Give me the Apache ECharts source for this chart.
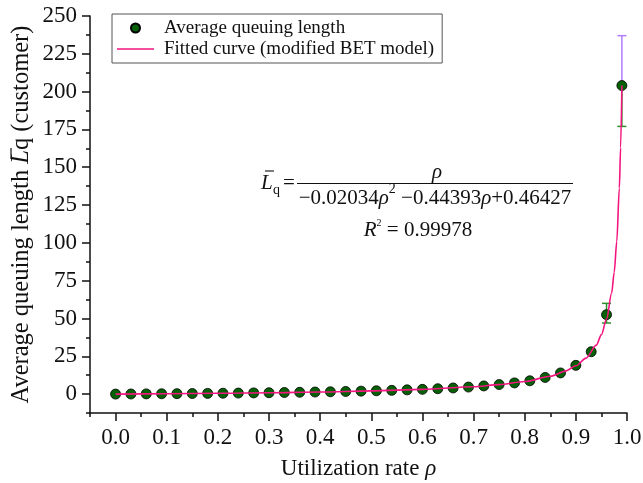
<!DOCTYPE html>
<html>
<head>
<meta charset="utf-8">
<script src="https://cdn.jsdelivr.net/npm/echarts@6/dist/echarts.min.js"></script>
<style>html,body{margin:0;background:#fff}#chart{width:643px;height:483px}</style>
</head>
<body>
<div id="chart"></div>
<script>
// measured points (utilization rate vs. mean queue length)
const rho = [0, 0.03, 0.06, 0.09, 0.12, 0.15, 0.18, 0.21, 0.24, 0.27, 0.30, 0.33, 0.36, 0.39, 0.42, 0.45, 0.48,
  0.51, 0.54, 0.57, 0.60, 0.63, 0.66, 0.69, 0.72, 0.75, 0.78, 0.81, 0.84, 0.87, 0.90, 0.93, 0.96, 0.99];
const lqMean = [0, 0.07, 0.14, 0.21, 0.29, 0.37, 0.47, 0.57, 0.67, 0.79, 0.91, 1.05, 1.2, 1.36, 1.53, 1.74, 1.96,
  2.19, 2.47, 2.8, 3.15, 3.55, 4.05, 4.65, 5.4, 6.3, 7.4, 8.8, 11, 14, 19, 28, 52.5, 204];

// visible error bars
const errRho = [0.96, 0.99];
const errLow = [47, 177];
const errHigh = [60, 237];

// fitted curve
const fitRho = [0, 0.1, 0.2, 0.3, 0.4, 0.5, 0.6, 0.7, 0.75, 0.8, 0.85, 0.88, 0.9, 0.92, 0.94, 0.95, 0.96,
  0.97, 0.975, 0.98, 0.985, 0.9875, 0.99];
const fitLq = [0, 0.24, 0.53, 0.91, 1.41, 2.11, 3.15, 4.88, 6.26, 8.32, 11.8, 15.2, 18.7, 23.8, 32.4, 39.3, 49.6,
  66.8, 80.6, 101, 136, 163, 204];

const xTicks = [0, 0.1, 0.2, 0.3, 0.4, 0.5, 0.6, 0.7, 0.8, 0.9, 1.0];
const yTicks = [0, 25, 50, 75, 100, 125, 150, 175, 200, 225, 250];

const serif = "'Liberation Serif', 'Times New Roman', serif";
const ink = "#111";
const green = "#066006", barGreen = "#2b8f2b", barPurple = "#b27cff", pink = "#f5157f";

const chart = echarts.init(document.getElementById("chart"));

const minorAxis = (min, max, interval) => ({
  type: "value", min, max, interval,
  axisLine: { show: true, onZero: false, lineStyle: { color: ink, width: 1.5 } },
  axisTick: { show: true, inside: false, length: 4, lineStyle: { color: ink, width: 1.5 } },
  axisLabel: { show: false },
  splitLine: { show: false },
});
const majorAxis = (min, max, ticks, fmt) => ({
  type: "value", min, max,
  axisLine: { show: false, onZero: false },
  axisTick: { show: true, inside: false, length: 8, customValues: ticks, lineStyle: { color: ink, width: 1.5 } },
  axisLabel: { show: true, customValues: ticks, formatter: fmt, fontFamily: serif, fontSize: 23, color: ink, margin: 13 },
  splitLine: { show: false },
});

chart.setOption({
  animation: false,
  textStyle: { fontFamily: serif },
  grid: { left: 90, right: 16, top: 16, bottom: 70, outerBoundsMode: "none", containLabel: false },
  legend: {
    left: 112, top: 14, orient: "vertical",
    padding: [4, 8, 4, 5], itemGap: 1,
    itemWidth: 37, itemHeight: 9,
    borderColor: "#555", borderWidth: 1,
    textStyle: { fontFamily: serif, fontSize: 19, color: ink, lineHeight: 20, padding: [0, 0, 0, 5] },
    data: [
      { name: "Average queuing length", icon: "circle" },
      { name: "Fitted curve (modified BET model)", icon: "path://M0,0H74V3H0Z" },
    ],
  },
  xAxis: [
    Object.assign(minorAxis(-0.05, 1.0, 0.05), { position: "bottom",
      name: "Utilization rate {i|ρ}", nameLocation: "middle", nameGap: 44,
      nameTextStyle: { fontFamily: serif, fontSize: 23, color: ink, rich: { i: { fontFamily: serif, fontStyle: "italic", fontSize: 23, color: ink } } } }),
    Object.assign(majorAxis(-0.05, 1.0, xTicks, v => v.toFixed(1)), { position: "bottom" }),
  ],
  yAxis: [
    Object.assign(minorAxis(-12.5, 250, 12.5), { position: "left",
      name: "Average queuing length {i|L}q (customer)", nameLocation: "middle", nameGap: 56, nameRotate: 90,
      nameTextStyle: { fontFamily: serif, fontSize: 24.5, color: ink, rich: { i: { fontFamily: serif, fontStyle: "italic", fontSize: 24.5, color: ink } } } }),
    Object.assign(majorAxis(-12.5, 250, yTicks, v => String(v)), { position: "left" }),
  ],
  series: [
    {
      type: "custom", name: "error", xAxisIndex: 0, yAxisIndex: 0, z: 1, silent: true,
      data: errRho.map((r, i) => [r, errLow[i], errHigh[i], lqMean[rho.indexOf(r)]]),
      renderItem(params, api) {
        const x = api.value(0);
        const lo = api.coord([x, api.value(1)]);
        const hi = api.coord([x, api.value(2)]);
        const mid = api.coord([x, api.value(3)]);
        const up = params.dataIndex === errRho.length - 1 ? barPurple : barGreen;
        const cap = 4.5;
        const seg = (x1, y1, x2, y2, c) => ({ type: "line", shape: { x1, y1, x2, y2 }, style: { stroke: c, lineWidth: 1.5 } });
        return { type: "group", children: [
          seg(mid[0], mid[1], lo[0], lo[1], barGreen),
          seg(lo[0] - cap, lo[1], lo[0] + cap, lo[1], barGreen),
          seg(mid[0], mid[1], hi[0], hi[1], up),
          seg(hi[0] - cap, hi[1], hi[0] + cap, hi[1], up),
        ] };
      },
    },
    {
      type: "scatter", name: "Average queuing length", xAxisIndex: 0, yAxisIndex: 0, z: 2,
      symbol: "circle", symbolSize: 10,
      itemStyle: { color: green, borderColor: "#000", borderWidth: 0.8, opacity: 1 },
      data: rho.map((r, i) => [r, lqMean[i]]),
    },
    {
      type: "line", name: "Fitted curve (modified BET model)", xAxisIndex: 0, yAxisIndex: 0, z: 3,
      symbol: "none", smooth: 0.3, smoothMonotone: "x",
      lineStyle: { color: pink, width: 1.6 }, itemStyle: { color: pink },
      data: fitRho.map((r, i) => [r, fitLq[i]]),
    },
  ],
  graphic: [
    // overline on the axis-title L
    { type: "line", shape: { x1: 11, y1: 159, x2: 11, y2: 148 }, style: { stroke: ink, lineWidth: 1.2 } },
    // fitted equation
    { type: "text", x: 261, y: 183, style: { text: "L", font: `italic 21px ${serif}`, fill: ink, verticalAlign: "middle" } },
    { type: "line", shape: { x1: 265, y1: 171, x2: 274, y2: 171 }, style: { stroke: ink, lineWidth: 1.1 } },
    { type: "text", x: 273, y: 190, style: { text: "q", font: `14px ${serif}`, fill: ink, verticalAlign: "middle" } },
    { type: "text", x: 283, y: 183, style: { text: "=", font: `21px ${serif}`, fill: ink, verticalAlign: "middle" } },
    { type: "line", shape: { x1: 297, y1: 183.5, x2: 573, y2: 183.5 }, style: { stroke: ink, lineWidth: 1 } },
    { type: "text", x: 437, y: 172, style: { text: "ρ", font: `italic 21px ${serif}`, fill: ink, align: "center", verticalAlign: "middle" } },
    { type: "text", x: 435, y: 198, style: {
      text: "{t|−0.02034}{i|ρ}{s|2}{t| −0.44393}{i|ρ}{t|+0.46427}",
      align: "center", verticalAlign: "middle",
      rich: {
        t: { font: `21px ${serif}`, fill: ink },
        i: { font: `italic 21px ${serif}`, fill: ink },
        s: { font: `14px ${serif}`, fill: ink, padding: [0, 0, 18, 0] },
      } } },
    { type: "text", x: 418, y: 230, style: {
      text: "{i|R}{s|2}{t| = 0.99978}",
      align: "center", verticalAlign: "middle",
      rich: {
        t: { font: `21px ${serif}`, fill: ink },
        i: { font: `italic 21px ${serif}`, fill: ink },
        s: { font: `10px ${serif}`, fill: ink, padding: [0, 0, 14, 0] },
      } } },
  ],
});
</script>
</body>
</html>
